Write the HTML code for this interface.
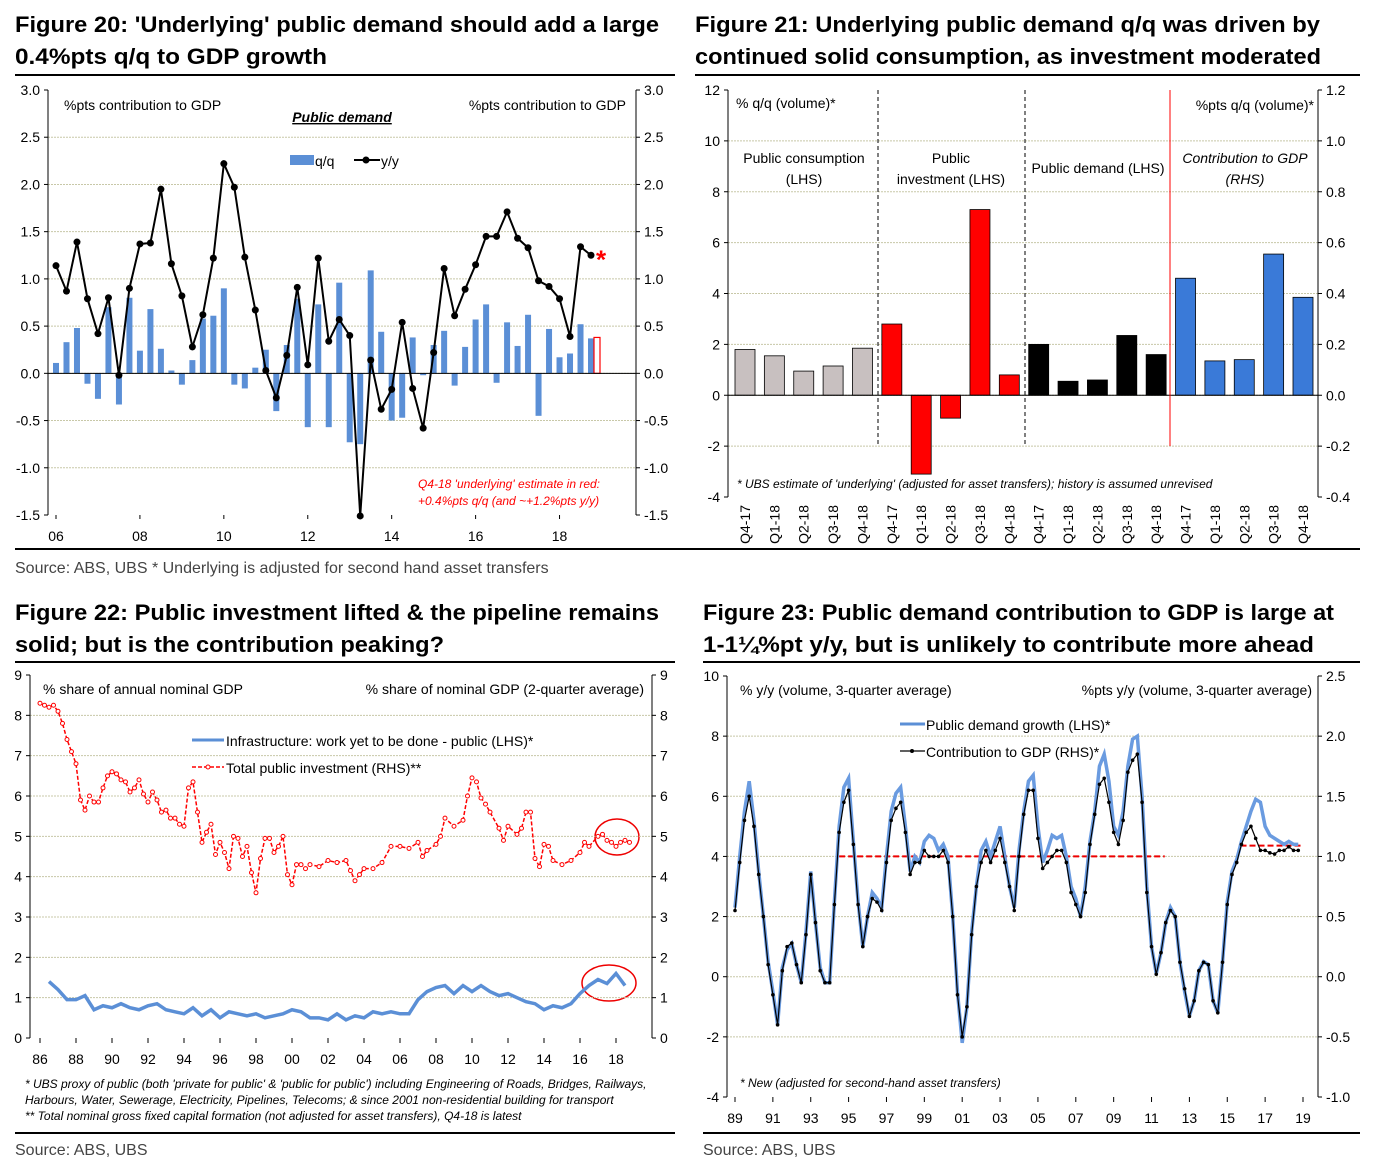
<!DOCTYPE html>
<html><head><meta charset="utf-8"><style>
body{margin:0;background:#fff}
svg{display:block;font-family:"Liberation Sans",sans-serif}
</style></head><body>
<svg id="s" width="1381" height="1175" viewBox="0 0 1381 1175">
<g id="static">
<text x="15" y="32" font-size="22" font-weight="bold" textLength="644" lengthAdjust="spacingAndGlyphs">Figure 20: 'Underlying' public demand should add a large</text>
<text x="15" y="64" font-size="22" font-weight="bold" textLength="312" lengthAdjust="spacingAndGlyphs">0.4%pts q/q to GDP growth</text>
<text x="695" y="32" font-size="22" font-weight="bold" textLength="625" lengthAdjust="spacingAndGlyphs">Figure 21: Underlying public demand q/q was driven by</text>
<text x="695" y="64" font-size="22" font-weight="bold" textLength="626" lengthAdjust="spacingAndGlyphs">continued solid consumption, as investment moderated</text>
<text x="15" y="620" font-size="22" font-weight="bold" textLength="644" lengthAdjust="spacingAndGlyphs">Figure 22: Public investment lifted &amp; the pipeline remains</text>
<text x="15" y="652" font-size="22" font-weight="bold" textLength="429" lengthAdjust="spacingAndGlyphs">solid; but is the contribution peaking?</text>
<text x="703" y="620" font-size="22" font-weight="bold" textLength="631" lengthAdjust="spacingAndGlyphs">Figure 23: Public demand contribution to GDP is large at</text>
<text x="703" y="652" font-size="22" font-weight="bold" textLength="611" lengthAdjust="spacingAndGlyphs">1-1¼%pt y/y, but is unlikely to contribute more ahead</text>
<rect x="15" y="74" width="660" height="2" fill="#000"/>
<rect x="695" y="74" width="665" height="2" fill="#000"/>
<rect x="15" y="548" width="1345" height="2" fill="#000"/>
<rect x="15" y="661" width="660" height="2" fill="#000"/>
<rect x="703" y="661" width="657" height="2" fill="#000"/>
<rect x="15" y="1132" width="660" height="2" fill="#000"/>
<rect x="703" y="1132" width="657" height="2" fill="#000"/>
<text x="15" y="573" font-size="16" fill="#444">Source:  ABS, UBS * Underlying is adjusted for second hand asset transfers</text>
<text x="15" y="1155" font-size="16" fill="#444">Source: ABS, UBS</text>
<text x="703" y="1155" font-size="16" fill="#444">Source: ABS, UBS</text>

<text x="64" y="110" font-size="14">%pts contribution to GDP</text>
<text x="626" y="110" font-size="14" text-anchor="end">%pts contribution to GDP</text>
<text x="342" y="122" font-size="14" font-weight="bold" font-style="italic" text-anchor="middle" text-decoration="underline">Public demand</text>
<rect x="290" y="155" width="24" height="10" fill="#5b8fd6"/>
<text x="315" y="166" font-size="14">q/q</text>
<line x1="354" y1="160" x2="380" y2="160" stroke="#000" stroke-width="2"/>
<circle cx="366" cy="160" r="3.5" fill="#000"/>
<text x="381" y="166" font-size="14">y/y</text>
<text x="418" y="488" font-size="12" font-style="italic" fill="#f00">Q4-18 'underlying' estimate in red:</text>
<text x="418" y="505" font-size="12" font-style="italic" fill="#f00">+0.4%pts q/q (and ~+1.2%pts  y/y)</text>

<text x="736" y="108" font-size="14">% q/q (volume)*</text>
<text x="1314" y="110" font-size="14" text-anchor="end">%pts q/q (volume)*</text>
<text x="804" y="163" font-size="14" text-anchor="middle">Public consumption</text>
<text x="804" y="184" font-size="14" text-anchor="middle">(LHS)</text>
<text x="951" y="163" font-size="14" text-anchor="middle">Public</text>
<text x="951" y="184" font-size="14" text-anchor="middle">investment (LHS)</text>
<text x="1098" y="173" font-size="14" text-anchor="middle">Public demand (LHS)</text>
<text x="1245" y="163" font-size="14" font-style="italic" text-anchor="middle">Contribution to GDP</text>
<text x="1245" y="184" font-size="14" font-style="italic" text-anchor="middle">(RHS)</text>
<text x="737" y="488" font-size="12" font-style="italic">* UBS estimate of 'underlying' (adjusted for asset transfers); history is assumed unrevised</text>

<text x="43" y="694" font-size="14">% share of annual nominal GDP</text>
<text x="644" y="694" font-size="14" text-anchor="end">% share of nominal GDP (2-quarter average)</text>
<line x1="192" y1="740" x2="224" y2="740" stroke="#5b8fd6" stroke-width="3"/>
<text x="226" y="746" font-size="14">Infrastructure: work yet to be done - public (LHS)*</text>
<line x1="192" y1="767" x2="224" y2="767" stroke="#f00" stroke-width="1.5" stroke-dasharray="4,2"/>
<circle cx="208" cy="767" r="2" fill="#fff" stroke="#f00"/>
<text x="226" y="773" font-size="14">Total public investment (RHS)**</text>
<ellipse cx="617" cy="837" rx="22" ry="18" fill="none" stroke="#e00" stroke-width="1.5"/>
<ellipse cx="609" cy="983" rx="27" ry="18" fill="none" stroke="#e00" stroke-width="1.5"/>
<text x="25" y="1088" font-size="12" font-style="italic">* UBS proxy of public (both 'private for public' &amp; 'public for public') including Engineering of Roads, Bridges, Railways,</text>
<text x="25" y="1104" font-size="12" font-style="italic">Harbours, Water, Sewerage, Electricity, Pipelines, Telecoms; &amp; since 2001 non-residential building for transport</text>
<text x="25" y="1120" font-size="12" font-style="italic">** Total nominal gross fixed capital formation (not adjusted for asset transfers), Q4-18 is latest</text>

<text x="740" y="695" font-size="14">% y/y (volume, 3-quarter average)</text>
<text x="1312" y="695" font-size="14" text-anchor="end">%pts y/y (volume, 3-quarter average)</text>
<line x1="900" y1="724" x2="925" y2="724" stroke="#5b8fd6" stroke-width="3"/>
<text x="926" y="730" font-size="14">Public demand growth (LHS)*</text>
<line x1="900" y1="751" x2="925" y2="751" stroke="#000" stroke-width="1.2"/>
<circle cx="912" cy="751" r="2" fill="#000"/>
<text x="926" y="757" font-size="14">Contribution to GDP (RHS)*</text>
<text x="740" y="1087" font-size="12" font-style="italic">* New (adjusted for second-hand asset transfers)</text>
</g>
<g id="dyn"></g>
</svg>
<script>
const f20QQ=[0.11,0.33,0.48,-0.11,-0.27,0.70,-0.33,0.80,0.24,0.68,0.26,0.03,-0.12,0.14,0.58,0.61,0.90,-0.12,-0.16,0.06,0.25,-0.40,0.30,0.79,-0.57,0.73,-0.57,0.96,-0.73,-0.75,1.09,0.44,-0.50,-0.47,0.38,-0.02,0.30,0.45,-0.13,0.28,0.57,0.73,-0.10,0.54,0.29,0.62,-0.45,0.47,0.17,0.21,0.52,0.37];
const f20YY=[1.14,0.87,1.39,0.79,0.42,0.80,-0.02,0.90,1.37,1.38,1.95,1.16,0.82,0.28,0.62,1.22,2.22,1.97,1.23,0.67,0.03,-0.26,0.19,0.91,0.09,1.22,0.34,0.57,0.40,-1.51,0.14,-0.38,-0.17,0.54,-0.16,-0.58,0.22,1.11,0.61,0.89,1.15,1.45,1.45,1.71,1.43,1.33,0.98,0.92,0.79,0.39,1.34,1.25];
const f20Red=[0.38];
const f20Ticks=["3.0","2.5","2.0","1.5","1.0","0.5","0.0","-0.5","-1.0","-1.5"];
const f20XLabels=["06","08","10","12","14","16","18"];
const f21Cats=["Q4-17","Q1-18","Q2-18","Q3-18","Q4-18","Q4-17","Q1-18","Q2-18","Q3-18","Q4-18","Q4-17","Q1-18","Q2-18","Q3-18","Q4-18","Q4-17","Q1-18","Q2-18","Q3-18","Q4-18"];
const f21Consumption=[1.8,1.55,0.95,1.15,1.85];
const f21Investment=[2.8,-3.1,-0.9,7.3,0.8];
const f21Demand=[2.0,0.55,0.6,2.35,1.6];
const f21Contribution=[0.46,0.135,0.14,0.555,0.385];
const f21LTicks=["12","10","8","6","4","2","0","-2","-4"];
const f21RTicks=["1.2","1.0","0.8","0.6","0.4","0.2","0.0","-0.2","-0.4"];
const f22RedYears=[1986,1986.25,1986.5,1986.75,1987,1987.25,1987.5,1987.75,1988,1988.25,1988.5,1988.75,1989,1989.25,1989.5,1989.75,1990,1990.25,1990.5,1990.75,1991,1991.25,1991.5,1991.75,1992,1992.25,1992.5,1992.75,1993,1993.25,1993.5,1993.75,1994,1994.25,1994.5,1994.75,1995,1995.25,1995.5,1995.75,1996,1996.25,1996.5,1996.75,1997,1997.25,1997.5,1997.75,1998,1998.25,1998.5,1998.75,1999,1999.25,1999.5,1999.75,2000,2000.25,2000.5,2000.75,2001,2001.5,2002,2002.5,2003,2003.25,2003.5,2003.75,2004,2004.5,2005,2005.5,2006,2006.5,2007,2007.25,2007.5,2008,2008.25,2008.5,2009,2009.5,2009.75,2010,2010.25,2010.5,2010.75,2011,2011.5,2011.75,2012,2012.5,2012.75,2013,2013.25,2013.5,2013.75,2014,2014.25,2014.5,2015,2015.5,2016,2016.25,2016.5,2017,2017.25,2017.5,2017.75,2018,2018.25,2018.5,2018.75];
const f22Red=[8.3,8.25,8.2,8.25,8.1,7.8,7.4,7.1,6.8,5.9,5.65,6.0,5.85,5.85,6.2,6.5,6.6,6.55,6.4,6.35,6.1,6.2,6.4,6.05,5.85,6.1,5.9,5.6,5.65,5.45,5.45,5.3,5.25,6.2,6.35,5.6,4.85,5.1,5.3,4.55,4.85,4.6,4.2,5.0,4.95,4.5,4.75,4.1,3.6,4.45,4.95,4.95,4.6,4.75,5.0,4.05,3.8,4.3,4.3,4.2,4.3,4.25,4.4,4.35,4.4,4.15,3.9,4.05,4.2,4.2,4.35,4.75,4.75,4.7,4.85,4.5,4.65,4.8,5.0,5.45,5.25,5.4,6.0,6.45,6.35,5.95,5.8,5.6,5.2,4.9,5.25,5.05,5.2,5.6,5.6,4.45,4.25,4.8,4.75,4.4,4.3,4.4,4.6,4.85,4.75,5.0,5.05,4.9,4.85,4.75,4.85,4.9,4.85];
const f22BlueYears=[1986.5,1987,1987.5,1988,1988.5,1989,1989.5,1990,1990.5,1991,1991.5,1992,1992.5,1993,1993.5,1994,1994.5,1995,1995.5,1996,1996.5,1997,1997.5,1998,1998.5,1999,1999.5,2000,2000.5,2001,2001.5,2002,2002.5,2003,2003.5,2004,2004.5,2005,2005.5,2006,2006.5,2007,2007.5,2008,2008.5,2009,2009.5,2010,2010.5,2011,2011.5,2012,2012.5,2013,2013.5,2014,2014.5,2015,2015.5,2016,2016.5,2017,2017.5,2018,2018.25,2018.5];
const f22Blue=[1.4,1.2,0.95,0.95,1.05,0.7,0.8,0.75,0.85,0.75,0.7,0.8,0.85,0.7,0.65,0.6,0.75,0.55,0.7,0.5,0.65,0.6,0.55,0.6,0.5,0.55,0.6,0.7,0.65,0.5,0.5,0.45,0.6,0.45,0.55,0.5,0.65,0.6,0.65,0.6,0.6,0.95,1.15,1.25,1.3,1.1,1.3,1.15,1.3,1.15,1.05,1.1,1.0,0.9,0.85,0.7,0.8,0.75,0.85,1.1,1.3,1.45,1.35,1.6,1.45,1.3];
const f22Ticks=["9","8","7","6","5","4","3","2","1","0"];
const f22XLabels=["86","88","90","92","94","96","98","00","02","04","06","08","10","12","14","16","18"];
const f23Growth=[2.3,4.0,5.5,6.5, 5.2,3.5,2.0,0.5, -0.5,-1.6,0.3,0.9, 1.1,0.4,-0.2,1.5, 3.5,1.8,0.3,-0.2, -0.2,2.5,5.0,6.3, 6.6,4.5,2.5,1.0, 2.0,2.8,2.6,2.3, 4.0,5.5,6.1,6.3, 5.0,3.5,4.0,3.8, 4.5,4.7,4.6,4.2, 4.4,4.0,2.0,-0.5, -2.2,-1.0,1.5,3.0, 4.2,4.5,4.0,4.5, 5.0,4.0,3.0,2.3, 4.2,5.5,6.5,6.7, 5.0,3.8,4.2,4.7, 4.6,4.7,4.0,3.0, 2.6,2.0,3.0,4.5, 5.5,7.0,7.4,6.5, 5.0,4.7,5.5,7.0, 7.9,8.0,6.0,3.0, 1.0,0.1,0.8,1.8, 2.3,2.0,0.5,-0.5, -1.3,-0.8,0.2,0.5, 0.4,-0.8,-1.2,0.5, 2.5,3.5,3.9,4.5, 5.0,5.5,5.9,5.8, 5.0,4.7,4.6,4.5, 4.4,4.5,4.4,4.4];
const f23Contrib=[0.55,0.95,1.3,1.5, 1.25,0.85,0.5,0.1, -0.15,-0.4,0.05,0.25, 0.28,0.1,-0.05,0.35, 0.85,0.45,0.05,-0.05, -0.05,0.6,1.2,1.45, 1.55,1.1,0.6,0.25, 0.5,0.65,0.62,0.55, 0.95,1.3,1.4,1.45, 1.2,0.85,0.95,0.95, 1.05,1.0,1.0,1.0, 1.05,0.95,0.5,-0.15, -0.5,-0.25,0.35,0.75, 0.95,1.05,0.95,1.05, 1.15,0.95,0.75,0.55, 1.0,1.35,1.55,1.55, 1.15,0.9,0.95,1.0, 1.05,1.05,0.95,0.7, 0.6,0.5,0.7,1.1, 1.35,1.6,1.65,1.45, 1.2,1.1,1.3,1.7, 1.8,1.85,1.45,0.7, 0.25,0.02,0.2,0.45, 0.55,0.5,0.12,-0.1, -0.33,-0.2,0.05,0.12, 0.1,-0.2,-0.3,0.12, 0.6,0.85,0.95,1.1, 1.2,1.25,1.15,1.05, 1.05,1.03,1.02,1.05, 1.05,1.08,1.05,1.05];
const f23Avg1=[1.0];
const f23Avg2=[1.09];
const f23LTicks=["10","8","6","4","2","0","-2","-4"];
const f23RTicks=["2.5","2.0","1.5","1.0","0.5","0.0","-0.5","-1.0"];
const f23XLabels=["89","91","93","95","97","99","01","03","05","07","09","11","13","15","17","19"];

const NS="http://www.w3.org/2000/svg";
const G=document.getElementById('dyn');
function mk(tag,at,parent){const e=document.createElementNS(NS,tag);for(const k in at)e.setAttribute(k,at[k]);(parent||G).appendChild(e);return e;}
function txt(x,y,s,at){const e=mk('text',Object.assign({x:x,y:y,'font-size':14},at||{}));e.textContent=s;return e;}
function lin(a,b,c,d,st,w,da){return mk('line',{x1:a,y1:b,x2:c,y2:d,stroke:st,'stroke-width':w||1,'stroke-dasharray':da||'none'});}
function axes(x0,x1,yT,yB,lt,rt,name){
  const n=lt.length;
  for(let i=0;i<n;i++){const y=yT+(yB-yT)*i/(n-1);
    if(i>0&&i<n-1){const g=lin(x0,y,x1,y,'#c8c8a8',1,'2,1');}
    lin(x0-4,y,x0,y,'#000');lin(x1,y,x1+4,y,'#000');
    const a=txt(x0-8,y+5,lt[i],{'text-anchor':'end'});
    const b=txt(x1+8,y+5,rt[i]);}
  const l=lin(x0,yT,x0,yB,'#000');
  const r=lin(x1,yT,x1,yB,'#000');
}
function scale(d0,d1,r0,r1){return v=>r0+(v-d0)*(r1-r0)/(d1-d0);}

(function(){
  const x0=48,x1=636,yT=90,yB=515;
  axes(x0,x1,yT,yB,f20Ticks,f20Ticks,'fig20');
  const y=scale(3,-1.5,yT,yB);
  const xq=scale(0,51,56,591);
  f20XLabels.forEach((s,i)=>{const xx=xq(i*8);const t=txt(xx,541,s,{'text-anchor':'middle'});lin(xx,yB,xx,yB+4,'#000');});
  f20QQ.forEach((v,i)=>{const r=mk('rect',{x:xq(i)-3,y:Math.min(y(v),y(0)),width:6,height:Math.abs(y(v)-y(0)),fill:'#5b8fd6'});
    
    });
  f20Red.forEach(v=>{const r=mk('rect',{x:xq(51)+3,y:y(v),width:6,height:y(0)-y(v),fill:'#fff',stroke:'#f00','stroke-width':1.2});
    
    });
  const z=lin(x0,y(0),x1,y(0),'#000');
  const p=mk('polyline',{points:f20YY.map((v,i)=>xq(i)+','+y(v)).join(' '),fill:'none',stroke:'#000','stroke-width':2});
  
  
  f20YY.forEach((v,i)=>{const c=mk('circle',{cx:xq(i),cy:y(v),r:3.5,fill:'#000'});
    
    });
  const a=txt(xq(51)+5,y(f20YY[51])+13,'*',{'font-size':26,'font-weight':'bold',fill:'#f00'});
})();

(function(){
  const x0=728,x1=1318,yT=90,yB=497;
  axes(x0,x1,yT,yB,f21LTicks,f21RTicks,'fig21');
  const y=scale(12,-4,yT,yB), yr=scale(1.2,-0.4,yT,yB);
  const xc=scale(0,19,745,1303);
  f21Cats.forEach((s,i)=>{const t=txt(0,0,s,{'text-anchor':'end',transform:'translate('+(xc(i)+5)+',505) rotate(-90)'});});
  const groups=[[f21Consumption,'#c8c0c0',y,0],[f21Investment,'#ff0000',y,5],[f21Demand,'#000',y,10],[f21Contribution,'#3a7ad8',yr,15]];
  const nm=['consumption','investment','demand','contribution'];
  groups.forEach((g,gi)=>g[0].forEach((v,i)=>{const yy=g[2];const r=mk('rect',{x:xc(g[3]+i)-10,y:Math.min(yy(v),yy(0)),width:20,height:Math.abs(yy(v)-yy(0)),fill:g[1],stroke:'#000','stroke-width':0.8});
    
    }));
  const z=lin(x0,y(0),x1,y(0),'#000');
  const d1=lin(878,yT,878,446,'#000',1,'4,3');
  const d2=lin(1025,yT,1025,446,'#000',1,'4,3');
  const d3=lin(1170,yT,1170,446,'#f00',1);
})();

(function(){
  const x0=30,x1=652,yT=675,yB=1038;
  axes(x0,x1,yT,yB,f22Ticks,f22Ticks,'fig22');
  const y=scale(9,0,yT,yB), x=scale(1986,2018,40,616);
  f22XLabels.forEach((s,i)=>{const xx=x(1986+2*i);const t=txt(xx,1064,s,{'text-anchor':'middle'});lin(xx,yB,xx,yB+5,'#000');});
  const bl=mk('polyline',{points:f22Blue.map((v,i)=>x(f22BlueYears[i])+','+y(v)).join(' '),fill:'none',stroke:'#5b8fd6','stroke-width':3.5});
  
  
  const n=Math.min(f22Red.length,f22RedYears.length);
  const pts=[];for(let i=0;i<n;i++)pts.push(x(f22RedYears[i])+','+y(f22Red[i]));
  const rl=mk('polyline',{points:pts.join(' '),fill:'none',stroke:'#f00','stroke-width':1.5,'stroke-dasharray':'4,2'});
  
  
  for(let i=0;i<n;i++){const c=mk('circle',{cx:x(f22RedYears[i]),cy:y(f22Red[i]),r:2,fill:'#fff',stroke:'#f00','stroke-width':1});
    
    }
})();

(function(){
  const x0=727,x1=1318,yT=676,yB=1097;
  axes(x0,x1,yT,yB,f23LTicks,f23RTicks,'fig23');
  const y=scale(10,-4,yT,yB), yr=scale(2.5,-1,yT,yB), x=scale(1989,2019,735,1303);
  f23XLabels.forEach((s,i)=>{const xx=x(1989+2*i);const t=txt(xx,1123,s,{'text-anchor':'middle'});lin(xx,yB,xx,yB+5,'#000');});
  const r1=lin(x(1994.5),yr(f23Avg1[0]),x(2011.7),yr(f23Avg1[0]),'#e00',2,'6,3');
  const r2=lin(x(2015.7),yr(f23Avg2[0]),x(2019),yr(f23Avg2[0]),'#e00',2,'6,3');
  const bl=mk('polyline',{points:f23Growth.map((v,i)=>x(1989+i/4)+','+y(v)).join(' '),fill:'none',stroke:'#6a9be0','stroke-width':3.5});
  
  
  const kl=mk('polyline',{points:f23Contrib.map((v,i)=>x(1989+i/4)+','+yr(v)).join(' '),fill:'none',stroke:'#000','stroke-width':1.2});
  
  
  f23Contrib.forEach((v,i)=>{const c=mk('circle',{cx:x(1989+i/4),cy:yr(v),r:1.8,fill:'#000'});
    
    });
})();
</script>
</body></html>
